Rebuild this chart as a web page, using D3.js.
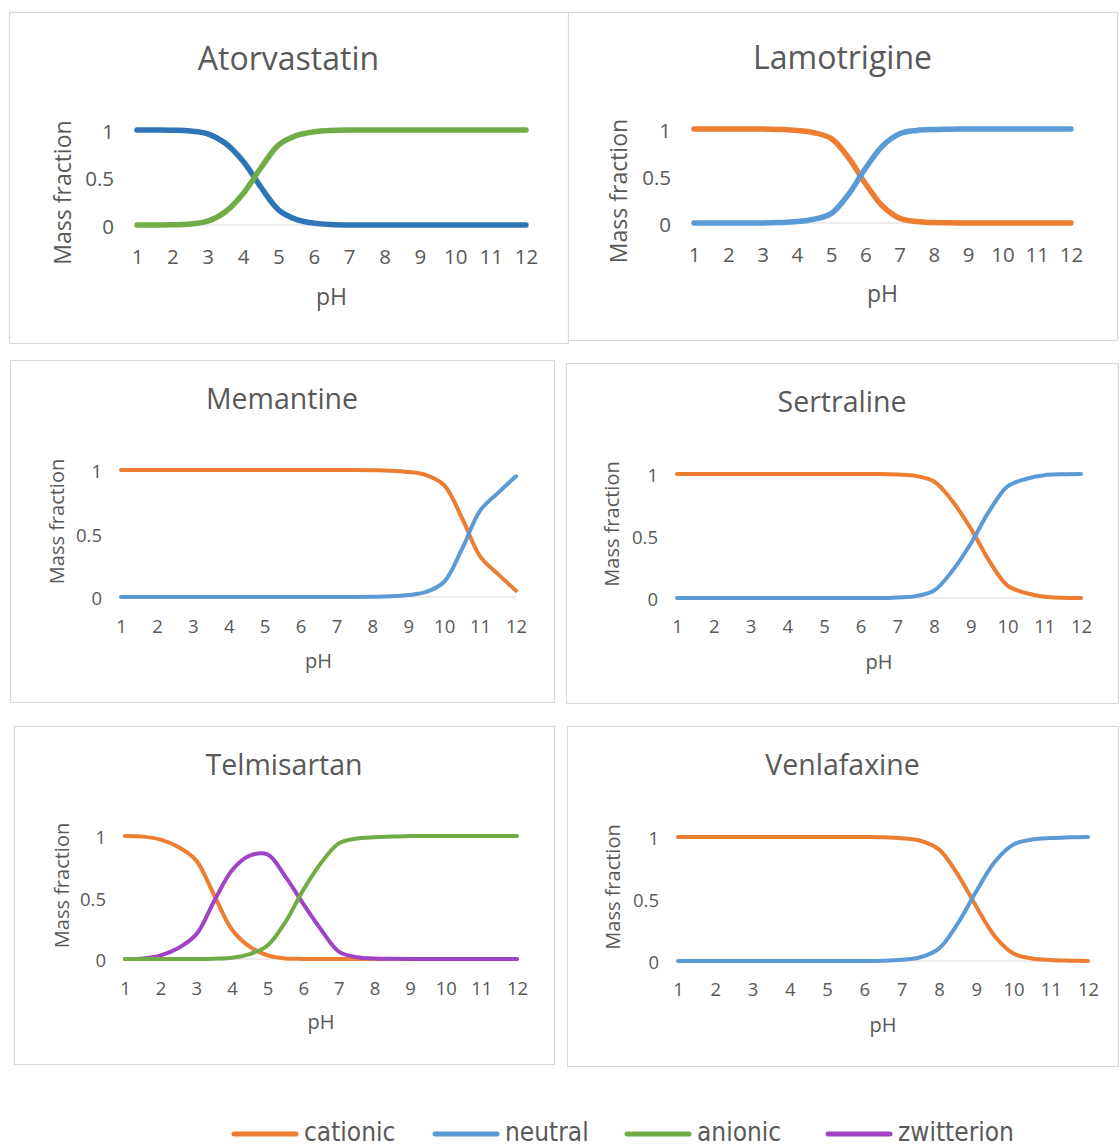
<!DOCTYPE html>
<html><head><meta charset="utf-8">
<script src="https://cdn.jsdelivr.net/npm/d3@7"></script>
<style>body{margin:0;background:#fff}svg{display:block}</style>
</head><body>
<svg id="c" width="1120" height="1148"></svg>
<script>
// ---- data ----
const ph = [1,1.5,2,2.5,3,3.5,4,4.5,5,5.5,6,6.5,7,7.5,8,8.5,9,9.5,10,10.5,11,11.5,12];
const xTicks = [1,2,3,4,5,6,7,8,9,10,11,12];
const yTicks = [0,0.5,1];
const seriesNames = ["cationic","neutral","anionic","zwitterion"];
const seriesColors = ["#ED7D31","#5B9BD5","#70AD47","#A043C4"];

const atorvastatinNeutral = [1,1,0.998,0.99,0.96,0.86,0.67,0.4,0.16,0.06,0.02,0.005,0,0,0,0,0,0,0,0,0,0,0];
const atorvastatinAnionic = [0,0,0.002,0.01,0.04,0.14,0.33,0.6,0.84,0.94,0.98,0.995,1,1,1,1,1,1,1,1,1,1,1];

const lamotrigineCationic = [1,1,1,1,1,0.995,0.985,0.96,0.9,0.7,0.42,0.18,0.05,0.015,0.005,0.002,0,0,0,0,0,0,0];
const lamotrigineNeutral  = [0,0,0,0,0,0.005,0.015,0.04,0.1,0.3,0.58,0.82,0.95,0.985,0.995,0.998,1,1,1,1,1,1,1];

const memantineCationic = [1,1,1,1,1,1,1,1,1,1,1,1,1,1,0.998,0.995,0.985,0.96,0.88,0.62,0.32,0.18,0.05];
const memantineNeutral  = [0,0,0,0,0,0,0,0,0,0,0,0,0,0,0.002,0.005,0.015,0.04,0.12,0.38,0.68,0.82,0.95];

const sertralineCationic = [1,1,1,1,1,1,1,1,1,1,1,1,0.995,0.985,0.94,0.78,0.56,0.3,0.1,0.04,0.01,0.002,0];
const sertralineNeutral  = [0,0,0,0,0,0,0,0,0,0,0,0,0.005,0.015,0.06,0.22,0.44,0.7,0.9,0.96,0.99,0.998,1];

const telmisartanCationic   = [1,0.995,0.97,0.91,0.8,0.52,0.24,0.1,0.03,0.005,0.001,0,0,0,0,0,0,0,0,0,0,0,0];
const telmisartanAnionic    = [0,0,0,0,0,0.003,0.01,0.04,0.11,0.3,0.56,0.78,0.94,0.98,0.99,0.995,1,1,1,1,1,1,1];
const telmisartanZwitterion = [0,0.004,0.03,0.09,0.2,0.47,0.72,0.84,0.85,0.67,0.45,0.24,0.06,0.015,0.005,0.002,0,0,0,0,0,0,0];

const venlafaxineCationic = [1,1,1,1,1,1,1,1,1,1,1,0.998,0.99,0.97,0.9,0.7,0.44,0.2,0.06,0.02,0.008,0.003,0];
const venlafaxineNeutral  = [0,0,0,0,0,0,0,0,0,0,0,0.002,0.01,0.03,0.1,0.3,0.56,0.8,0.94,0.98,0.992,0.997,1];

// ---- layout ----
const panels = [
  {title:"Atorvastatin", box:[9,12,559,331], px:[137,526], py:[130,225], tY:57, tFs:32, tickFs:20.5, labFs:23, yLabX:62, labOff:15, tickY:256, phY:296, yTickX:114, lw:5.5,
   series:[{v:atorvastatinNeutral,c:"#2E75B6"},{v:atorvastatinAnionic,c:seriesColors[2]}]},
  {title:"Lamotrigine", box:[568,12,549,328], px:[694,1071], py:[129,223], tY:56, tFs:32, tickFs:20.5, labFs:23, yLabX:618, labOff:15, tickY:254, phY:293, yTickX:671, lw:5.5,
   series:[{v:lamotrigineCationic,c:seriesColors[0]},{v:lamotrigineNeutral,c:seriesColors[1]}]},
  {title:"Memantine", box:[10,360,544,342], px:[121,516], py:[470,597], tY:398, tFs:28.5, tickFs:18.5, labFs:20, yLabX:56, labOff:-12, tickY:625, phY:660, yTickX:102, lw:4,
   series:[{v:memantineCationic,c:seriesColors[0]},{v:memantineNeutral,c:seriesColors[1]}]},
  {title:"Sertraline", box:[566,363,552,340], px:[677,1081], py:[474,598], tY:401, tFs:28.5, tickFs:18.5, labFs:20, yLabX:611, labOff:-12, tickY:625, phY:661, yTickX:658, lw:4,
   series:[{v:sertralineCationic,c:seriesColors[0]},{v:sertralineNeutral,c:seriesColors[1]}]},
  {title:"Telmisartan", box:[14,726,540,338], px:[125,517], py:[836,959], tY:764, tFs:28.5, tickFs:18.5, labFs:20, yLabX:61, labOff:-12, tickY:987, phY:1021, yTickX:106, lw:4,
   series:[{v:telmisartanCationic,c:seriesColors[0]},{v:telmisartanZwitterion,c:seriesColors[3]},{v:telmisartanAnionic,c:seriesColors[2]}]},
  {title:"Venlafaxine", box:[567,726,551,340], px:[678,1088], py:[837,961], tY:764, tFs:28.5, tickFs:18.5, labFs:20, yLabX:612, labOff:-12, tickY:988, phY:1024, yTickX:659, lw:4,
   series:[{v:venlafaxineCationic,c:seriesColors[0]},{v:venlafaxineNeutral,c:seriesColors[1]}]}
];

const svg = d3.select("#c");
const FONT = "'Open Sans', 'Noto Sans', sans-serif";
const TXT = "#595959";

panels.forEach(p => {
  const g = svg.append("g");
  g.append("rect").attr("x",p.box[0]+0.5).attr("y",p.box[1]+0.5).attr("width",p.box[2]).attr("height",p.box[3])
    .attr("fill","#fff").attr("stroke","#D9D9D9").attr("stroke-width",1.2);
  const x = d3.scaleLinear().domain([1,12]).range(p.px);
  const y = d3.scaleLinear().domain([0,1]).range([p.py[1],p.py[0]]);
  const cx = p.box[0] + p.box[2]/2;
  g.append("text").attr("x",cx).attr("y",p.tY).attr("text-anchor","middle").attr("dominant-baseline","central")
    .attr("font-family",FONT).attr("font-size",p.tFs).attr("fill",TXT).text(p.title);
  // baseline
  g.append("line").attr("x1",x(1)).attr("x2",x(12)).attr("y1",y(0)).attr("y2",y(0)).attr("stroke","#D9D9D9").attr("stroke-width",1);
  // x axis
  const xa = d3.axisBottom(x).tickValues(xTicks).tickSize(0).tickFormat(d3.format("d"));
  const xg = g.append("g").attr("transform",`translate(0,${p.tickY})`).call(xa);
  xg.select(".domain").remove();
  xg.selectAll("text").attr("dy",0).attr("y",0).attr("dominant-baseline","central").attr("font-family",FONT).attr("font-size",p.tickFs).attr("fill",TXT);
  // y axis
  const ya = d3.axisLeft(y).tickValues(yTicks).tickSize(0).tickFormat(d => d===0.5?"0.5":d3.format("d")(d));
  const yg = g.append("g").attr("transform",`translate(${p.yTickX},0)`).call(ya);
  yg.select(".domain").remove();
  yg.selectAll("text").attr("x",0).attr("dy",0).attr("dominant-baseline","central").attr("font-family",FONT).attr("font-size",p.tickFs).attr("fill",TXT);
  // labels
  g.append("text").attr("x",(p.px[0]+p.px[1])/2).attr("y",p.phY).attr("text-anchor","middle").attr("dominant-baseline","central")
    .attr("font-family",FONT).attr("font-size",p.labFs).attr("fill",TXT).text("pH");
  g.append("text").attr("transform",`translate(${p.yLabX},${(p.py[0]+p.py[1])/2+p.labOff}) rotate(-90)`).attr("text-anchor","middle").attr("dominant-baseline","central")
    .attr("font-family",FONT).attr("font-size",p.labFs).attr("fill",TXT).text("Mass fraction");
  // lines
  const line = d3.line().x((d,i)=>x(ph[i])).y(d=>y(d)).curve(d3.curveCatmullRom.alpha(0.5));
  p.series.forEach(s => {
    g.append("path").attr("d",line(s.v)).attr("fill","none").attr("stroke",s.c).attr("stroke-width",p.lw).attr("stroke-linecap","round").attr("stroke-linejoin","round");
  });
});

// legend
const legX = [232,433,625,826];
const lg = svg.append("g");
seriesNames.forEach((n,i) => {
  lg.append("line").attr("x1",legX[i]+2).attr("x2",legX[i]+64).attr("y1",1134).attr("y2",1134)
    .attr("stroke",seriesColors[i]).attr("stroke-width",5).attr("stroke-linecap","round");
  lg.append("text").attr("x",legX[i]+72).attr("y",1141).attr("font-family","'Liberation Sans Narrow','DejaVu Sans Condensed',sans-serif")
    .attr("font-size",26).attr("fill",TXT).text(n);
});
</script>
</body></html>
